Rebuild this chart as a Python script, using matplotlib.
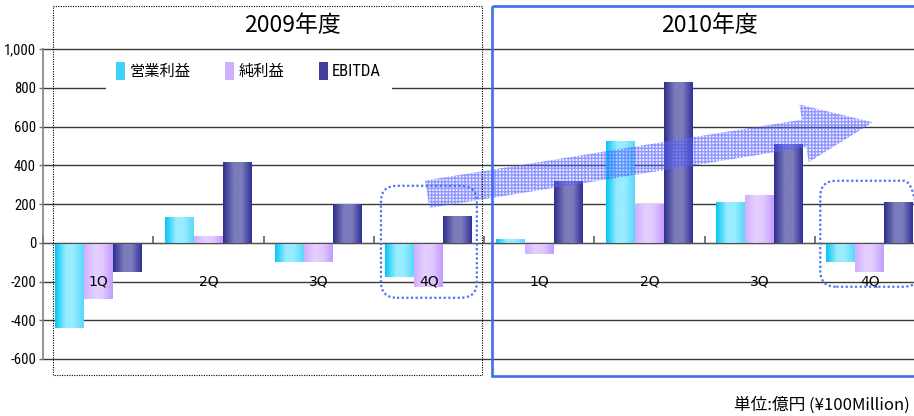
import numpy as np
import matplotlib
matplotlib.use("Agg")
import matplotlib.pyplot as plt
from matplotlib import font_manager
from matplotlib.patches import Patch, Rectangle, FancyBboxPatch, FancyArrowPatch
from matplotlib.colors import LinearSegmentedColormap
from matplotlib.ticker import StrMethodFormatter, FixedLocator
from matplotlib.transforms import Affine2D, IdentityTransform

plt.rcParams['axes.unicode_minus'] = False
CJK = ['Noto Sans CJK JP', 'DejaVu Sans']
installed = {f.name for f in font_manager.fontManager.ttflist}
narrow_pick = [n for n in ['Liberation Sans Narrow', 'DejaVu Sans Condensed',
                           'Roboto Condensed', 'Open Sans Condensed']
               if n in installed]
NARROW = narrow_pick[:1] + ['DejaVu Sans'] if narrow_pick else ['Liberation Sans', 'DejaVu Sans']
small = 10.5 if narrow_pick else 9.5

# quarterly results, 億円
quarters = ['1Q', '2Q', '3Q', '4Q', '1Q', '2Q', '3Q', '4Q']
operating = [-440, 135, -100, -175, 20, 525, 210, -100]
net = [-290, 35, -100, -230, -60, 200, 245, -150]
ebitda = [-150, 415, 200, 140, 320, 830, 510, 210]
series_names = ['営業利益', '純利益', 'EBITDA']
years = ['2009年度', '2010年度']
yticks = [-600, -400, -200, 0, 200, 400, 600, 800, 1000]

W, H = 914, 416
fig = plt.figure(figsize=(W / 100, H / 100), dpi=100)
ax = fig.add_axes([43 / W, 1 - 359 / H, 871 / W, 310 / H])

# pixel coordinates measured from the top-left corner
px = Affine2D().scale(1 / W, -1 / H).translate(0, 1) + fig.transFigure

gradients = [
    ['#05c6f4', '#98ecff', '#98ecff', '#5ad8fa'],
    ['#d2aeff', '#e4d0ff', '#e0c8ff', '#c39bff'],
    ['#2e2e8e', '#7c7cbc', '#7c7cbc', '#30309a'],
]
solid = ['#40d0f8', '#cfb0fc', '#40409c']

x = np.arange(len(quarters))
bw = 0.263
for k, vals in enumerate([operating, net, ebitda]):
    cmap = LinearSegmentedColormap.from_list(
        'g%d' % k, list(zip([0, 0.38, 0.65, 1], gradients[k])))
    bars = ax.bar(x + (k - 1) * bw, vals, bw, color=solid[k], zorder=1)
    for b in bars:
        x0, y0 = b.get_x(), b.get_y()
        im = ax.imshow(np.linspace(0, 1, 64)[None, :], cmap=cmap,
                       extent=(x0, x0 + b.get_width(), y0, y0 + b.get_height()),
                       aspect='auto', zorder=1.2)
        im.set_clip_path(b)

for yv in yticks:
    ax.axhline(yv, color='#3a3a3a', lw=1.0, zorder=0.5, clip_on=False)

ax.set_xlim(-0.5, 7.4)
ax.set_ylim(-600, 1000)
ax.set_yticks(yticks)
ax.yaxis.set_major_formatter(StrMethodFormatter('{x:,.0f}'))
ax.tick_params(axis='y', direction='out', length=3, width=1, color='#707070', pad=2)
for lab in ax.get_yticklabels():
    lab.set_family(NARROW)
    lab.set_fontsize(small)

ax.set_xticks(x)
ax.set_xticklabels(quarters, family=NARROW, fontsize=small + 0.5)
ax.tick_params(axis='x', which='major', length=0, pad=23)
ax.xaxis.set_minor_locator(FixedLocator(np.arange(-0.5, 7, 1.0)))
ax.tick_params(axis='x', which='minor', direction='in', length=5, width=1.2, color='#606060')

ax.spines['top'].set_visible(False)
ax.spines['right'].set_visible(False)
ax.spines['bottom'].set_position(('data', 0))
ax.spines['bottom'].set_color('#505050')
ax.spines['left'].set_color('#808080')
ax.spines['left'].set_linewidth(1.2)

handles = [Patch(facecolor=c, edgecolor='none') for c in solid]
leg = ax.legend(handles, series_names, loc='upper left', ncol=3,
                bbox_to_anchor=(0.063, 1.016), frameon=True, fancybox=False,
                framealpha=1, facecolor='white', edgecolor='none',
                handlelength=0.55, handleheight=1.4, handletextpad=0.3,
                columnspacing=2.3, borderpad=0.7, prop={'family': CJK, 'size': 11})
leg.set_zorder(3)
for t in leg.get_texts()[2:]:
    t.set_family(NARROW)
    t.set_fontsize(12 if narrow_pick else 10.5)

# upward trend arrow
arrow = FancyArrowPatch((2.96, 248), (7.05, 624),
                        arrowstyle='simple,head_length=2.5,head_width=2.1,tail_width=1.0',
                        mutation_scale=20, facecolor=(0.7, 0.7, 1.0, 0.18),
                        edgecolor=(0.25, 0.3, 1.0, 0.55), lw=0, hatch='+++++',
                        zorder=2.2)
ax.add_patch(arrow)

# highlight boxes around the 4Q groups
for cx, top, bot, half in [(3, 294, -284, 0.435), (7, 320, -227, 0.45)]:
    (x0, y0) = ax.transData.transform((cx - half, bot))
    (x1, y1) = ax.transData.transform((cx + half, top))
    fig.add_artist(FancyBboxPatch((x0, y0), x1 - x0, y1 - y0,
                                  boxstyle='round,pad=0,rounding_size=16',
                                  transform=IdentityTransform(), fill=False,
                                  edgecolor='#4a74f2', lw=1.6,
                                  linestyle=(0, (1, 1.1)), zorder=4))

# fiscal-year frames
fig.add_artist(Rectangle((53, 6), 429, 369, transform=px, fill=False,
                         edgecolor='black', lw=0.8, linestyle=(0, (1, 1.2)), zorder=4))
fig.add_artist(Rectangle((492, 6), 440, 370, transform=px, fill=False,
                         edgecolor='#3d6df2', lw=1.9, zorder=4))

fig.text(292 / W, 1 - 26 / H, years[0], family=CJK, fontsize=16.5,
         ha='center', va='center')
fig.text(709 / W, 1 - 26 / H, years[1], family=CJK, fontsize=16.5,
         ha='center', va='center')
fig.text(910 / W, 1 - 405 / H, '単位:億円 (¥100Million)', family=CJK,
         fontsize=12, ha='right', va='center')

fig.savefig('out.png', dpi=100)
